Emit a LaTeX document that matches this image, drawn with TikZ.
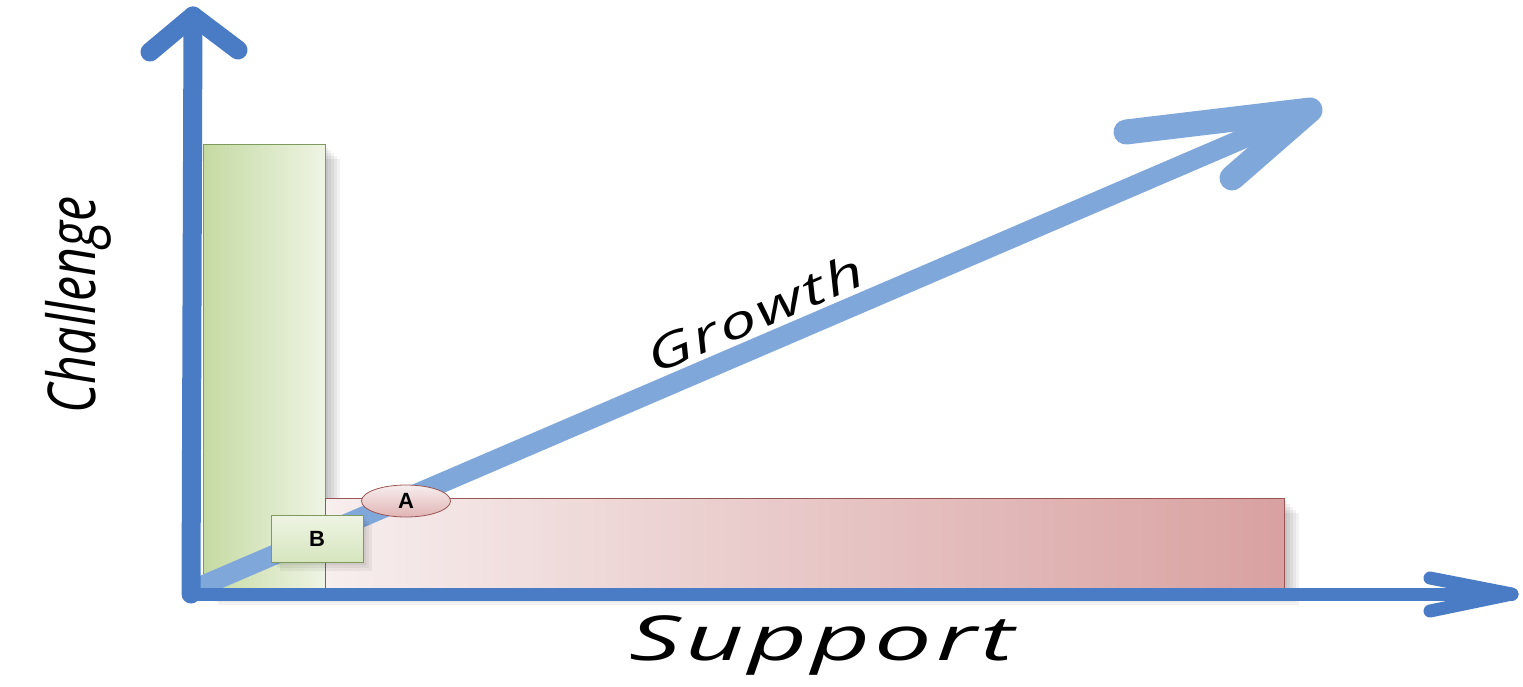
\documentclass[tikz,border=0pt]{standalone}
\usepackage{fontspec}
\setmainfont{Open Sans}
\newfontfamily\handfont[LetterSpace=4]{Open Sans}
\newfontfamily\handtight{Open Sans}
\newfontfamily\boxfont{Liberation Sans}
\usetikzlibrary{shapes.geometric}
\definecolor{axisblue}{HTML}{4A7CC6}
\definecolor{growblue}{HTML}{7FA7DA}
\definecolor{greenfill}{HTML}{C5DAA2}
\definecolor{greenlight}{HTML}{EEF4E4}
\definecolor{greenedge}{HTML}{7E9A5C}
\definecolor{pinkfill}{HTML}{D9A1A1}
\definecolor{pinklight}{HTML}{F7EEEE}
\definecolor{pinkedge}{HTML}{9A5454}
\begin{document}
\begin{tikzpicture}[x=1pt,y=-1pt,
  yaxis/.style={draw=axisblue,line width=19pt,line cap=round,line join=round},
  xaxis/.style={draw=axisblue,line width=13pt,line cap=round,line join=round},
  growth/.style={draw=growblue,line width=20pt,line cap=round,line join=round},
  growthhead/.style={draw=growblue,line width=25pt,line cap=round,line join=round},
  shadowlayer/.style={fill=black,opacity=0.05,draw=none},
  hand/.style={inner sep=0pt},
  boxlabel/.style={font=\boxfont\bfseries\fontsize{22}{24}\selectfont}]
\useasboundingbox (0,0) rectangle (1523,686);
% coordinates
\coordinate (o) at (191,594);
\coordinate (ytip) at (193,16);
\coordinate (yl) at (150,52);
\coordinate (yr) at (238,50);
\coordinate (xtip) at (1512,594);
\coordinate (xl) at (1430,578);
\coordinate (xr) at (1430,611);
\coordinate (gs) at (204,585);
\coordinate (gtip) at (1310,110);
\coordinate (gl) at (1126,132);
\coordinate (gr) at (1232,178);
% soft shadows
\foreach \d in {3,6,9,12,15}{
  \path[shadowlayer] (203+\d,144+\d) rectangle (325+\d,590+\d);
  \path[shadowlayer] (325+\d,498+\d) rectangle (1284+\d,590+\d);
}
% bars
\path[left color=greenfill,right color=greenlight,draw=greenedge,line width=0.8pt]
  (203,144) rectangle (325,590);
\path[left color=pinklight,right color=pinkfill,draw=pinkedge,line width=0.8pt]
  (325,498) rectangle (1284,590);
% growth arrow
\draw[growth] (gs) -- (gtip);
\draw[growthhead] (gl) -- (gtip) -- (gr);
% labels on points
\foreach \d in {3,6,9}{
  \path[shadowlayer] (271+\d,515+\d) rectangle (363+\d,562+\d);
}
\node[draw=greenedge,line width=0.8pt,top color=greenlight,bottom color=greenfill!70!white,
  minimum width=92pt,minimum height=47pt,boxlabel] (B) at (317,538.5) {B};
\node[ellipse,draw=pinkedge,line width=0.8pt,top color=pinklight,bottom color=pinkfill!80!white,
  minimum width=89pt,minimum height=32pt,inner sep=0pt,boxlabel] (A) at (406,501) {A};
% axes
\draw[yaxis] (o) -- (ytip);
\draw[yaxis] (yl) -- (ytip) -- (yr);
\draw[xaxis] (o) -- (xtip);
\draw[xaxis] (xl) -- (xtip) -- (xr);
% axis texts
\node[hand,rotate=90] (challenge) at (78,305)
  {\scalebox{0.76}[1]{\handtight\itshape\fontsize{66}{68}\selectfont Challenge}};
\node[hand] (support) at (822,645)
  {\scalebox{1.65}[1]{\handfont\itshape\fontsize{62}{64}\selectfont Support}};
\node[hand,rotate=23.3] (growthlabel) at (755,313)
  {\scalebox{1.45}[1]{\handfont\itshape\fontsize{46}{48}\selectfont Growth}};
\end{tikzpicture}
\end{document}
